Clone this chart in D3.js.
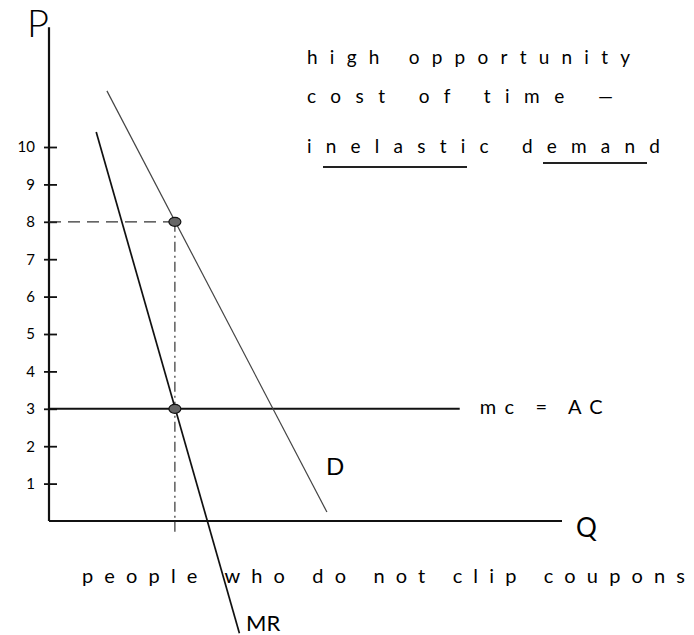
<!DOCTYPE html>
<html>
<head>
<meta charset="utf-8">
<script src="https://cdn.jsdelivr.net/npm/d3@7/dist/d3.min.js"></script>
<style>
  html, body { margin: 0; padding: 0; background: #fff; }
  svg { display: block; }
  text { font-family: Lato, "DejaVu Sans", sans-serif; fill: #000; font-variant-ligatures: none; }
</style>
</head>
<body>
<svg id="chart" width="694" height="635"></svg>
<script>
// Price axis ticks
const priceTicks = [1, 2, 3, 4, 5, 6, 7, 8, 9, 10];

// Demand curve (Q, P) end points
const demandQ = [1.84, 8.83];
const demandP = [11.5, 0.24];

// Marginal revenue curve (Q, P) end points
const mrQ = [1.5, 6.05];
const mrP = [10.4, -3.0];

// Constant marginal cost = average cost
const mcLevel = 3;
const mcQ = [0, 13.05];

// Profit-maximising choice
const qStar = 4;
const pStar = 8;

// Axis extents
const qMax = 16.3;
const pMax = 13.2;

// Text
const noteLines = ["high opportunity", "cost of time \u2014", "inelastic demand"];
const caption = "people who do not clip coupons";

const svg = d3.select("#chart");
svg.append("rect").attr("width", 694).attr("height", 635).attr("fill", "#fff");

const x = d3.scaleLinear().domain([0, qMax]).range([49, 562]);
const y = d3.scaleLinear().domain([0, 10]).range([521, 147]);

const line = d3.line().x(d => x(d[0])).y(d => y(d[1]));

// Axes
svg.append("line")
  .attr("x1", x(0)).attr("y1", y(pMax)).attr("x2", x(0)).attr("y2", y(0))
  .attr("stroke", "#111").attr("stroke-width", 2.2);
svg.append("line")
  .attr("x1", x(0)).attr("y1", y(0)).attr("x2", x(qMax)).attr("y2", y(0))
  .attr("stroke", "#111").attr("stroke-width", 2.2);

const yAxis = d3.axisLeft(y).tickValues(priceTicks).tickSize(6).tickPadding(8)
  .tickFormat(d3.format("d"));
const gy = svg.append("g").attr("transform", `translate(${x(0)},0)`).call(yAxis);
gy.select(".domain").remove();
gy.selectAll(".tick line").attr("x1", -5).attr("x2", 8)
  .attr("stroke", "#111").attr("stroke-width", 1.8);
gy.selectAll(".tick text")
  .attr("font-size", 15).attr("font-family", "Lato, 'DejaVu Sans', sans-serif")
  .attr("fill", "#000").attr("x", -14);

// Axis letters
svg.append("text").attr("x", 27).attr("y", 37).attr("font-size", 38)
  .attr("font-weight", 300).text("P");
svg.append("text").attr("x", x(qMax) + 14).attr("y", y(0) + 16).attr("font-size", 26)
  .text("Q");

// Guide lines to the chosen point
svg.append("line")
  .attr("x1", x(0)).attr("y1", y(pStar)).attr("x2", x(qStar)).attr("y2", y(pStar))
  .attr("stroke", "#333").attr("stroke-width", 1.2).attr("stroke-dasharray", "12,7");
svg.append("line")
  .attr("x1", x(qStar)).attr("y1", y(pStar)).attr("x2", x(qStar)).attr("y2", y(-0.35))
  .attr("stroke", "#333").attr("stroke-width", 1.2).attr("stroke-dasharray", "10,4,2,4");

// MC = AC
svg.append("path")
  .attr("d", line(mcQ.map(q => [q, mcLevel])))
  .attr("fill", "none").attr("stroke", "#111").attr("stroke-width", 2);
svg.append("text").attr("x", x(mcQ[1]) + 20).attr("y", y(mcLevel) + 5)
  .attr("font-size", 20)
  .attr("textLength", 123).attr("lengthAdjust", "spacing").text("mc = AC");

// Demand
svg.append("path")
  .attr("d", line(demandQ.map((q, i) => [q, demandP[i]])))
  .attr("fill", "none").attr("stroke", "#444").attr("stroke-width", 1.2);
svg.append("text").attr("x", 326).attr("y", 475).attr("font-size", 24)
  .text("D");

// Marginal revenue
svg.append("path")
  .attr("d", line(mrQ.map((q, i) => [q, mrP[i]])))
  .attr("fill", "none").attr("stroke", "#111").attr("stroke-width", 1.7);
svg.append("text").attr("x", 246).attr("y", 631).attr("font-size", 22)
  .text("MR");

// Points
[[qStar, pStar], [qStar, mcLevel]].forEach(p => {
  svg.append("ellipse")
    .attr("cx", x(p[0])).attr("cy", y(p[1])).attr("rx", 6).attr("ry", 4.5)
    .attr("fill", "#666").attr("stroke", "#111").attr("stroke-width", 1.2);
});

// Note in the top right
const noteY = [64, 103, 153];
const noteLen = [323, 306, 353];
noteLines.forEach((t, i) => {
  svg.append("text").attr("x", 307).attr("y", noteY[i]).attr("font-size", 19)
    .attr("textLength", noteLen[i]).attr("lengthAdjust", "spacing").text(t);
});
svg.append("line").attr("x1", 323).attr("y1", 167).attr("x2", 467).attr("y2", 167)
  .attr("stroke", "#222").attr("stroke-width", 2);
svg.append("line").attr("x1", 543).attr("y1", 163).attr("x2", 647).attr("y2", 163)
  .attr("stroke", "#222").attr("stroke-width", 2);

// Caption under the axis
svg.append("text").attr("x", 82).attr("y", 583).attr("font-size", 20)
  .attr("textLength", 603).attr("lengthAdjust", "spacing").text(caption);
</script>
</body>
</html>
